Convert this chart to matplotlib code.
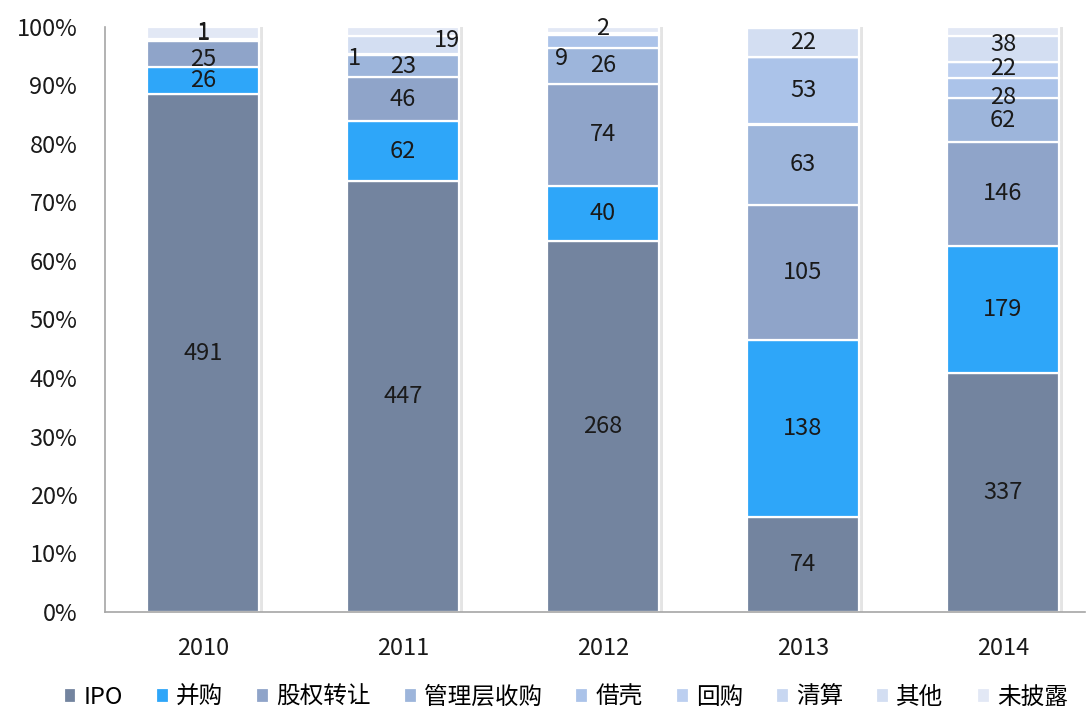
import matplotlib
matplotlib.use('Agg')
import matplotlib.pyplot as plt
import numpy as np

plt.rcParams['font.family'] = ['Noto Sans CJK SC', 'DejaVu Sans']

years = ['2010', '2011', '2012', '2013', '2014']
categories = ['IPO', '并购', '股权转让', '管理层收购', '借壳', '回购', '清算', '其他', '未披露']

ipo = [491, 447, 268, 74, 337]
merger = [26, 62, 40, 138, 179]
equity_transfer = [25, 46, 74, 105, 146]
mbo = [1, 23, 26, 63, 62]
backdoor = [1, 1, 9, 53, 28]
buyback = [0, 0, 2, 0, 22]
liquidation = [0, 0, 0, 0, 0]
other = [0, 19, 0, 22, 38]
undisclosed = [11, 9, 4, 1, 12]

colors = ['#73849f', '#2ea6f9', '#8fa4c9', '#9db5db', '#abc3e9',
          '#bccff0', '#c8d7f1', '#d3def2', '#e2e8f5']

# label nudges in points (year index, category index)
nudge = {(0, 3): (0, 5), (0, 4): (0, 5), (0, 2): (0, -4),
         (1, 4): (-35, -3), (1, 7): (32, 3),
         (2, 4): (-30, -12), (2, 5): (0, 4),
         (4, 7): (0, 3), (4, 5): (0, 1), (4, 4): (0, -7)}

series = [ipo, merger, equity_transfer, mbo, backdoor, buyback, liquidation, other, undisclosed]
data = np.array(series, dtype=float)
totals = data.sum(axis=0)
pct = data / totals * 100

fig = plt.figure(figsize=(10.91, 7.07), dpi=100)
ax = fig.add_axes([105 / 1091, 95 / 707, 980 / 1091, 585 / 707])

x = np.arange(len(years))
width = 0.56

# faint shadow behind each bar
ax.bar(x + 0.012, 100.4, width + 0.02, bottom=-0.4, color='#e4e4e4', zorder=1)

bottom = np.zeros(len(years))
for i, name in enumerate(categories):
    ax.bar(x, pct[i], width, bottom=bottom, color=colors[i], edgecolor='white',
           linewidth=1.6, label=name, zorder=2)
    if name != '未披露':
        for j in range(len(years)):
            if data[i, j] <= 0:
                continue
            dx, dy = nudge.get((j, i), (0, 0))
            ax.annotate('%d' % data[i, j], (x[j], bottom[j] + pct[i, j] / 2),
                        xytext=(dx, dy), textcoords='offset points',
                        ha='center', va='center', fontsize=17, color='#1a1a1a', zorder=3)
    bottom += pct[i]

ax.set_xlim(-0.49, 4.41)
ax.set_ylim(0, 100)
ax.set_yticks(np.arange(0, 101, 10))
ax.set_yticklabels(['%d%%' % v for v in range(0, 101, 10)], fontsize=17)
ax.set_xticks(x)
ax.set_xticklabels(years, fontsize=17)
ax.tick_params(axis='y', length=0, pad=20, colors='#1a1a1a')
ax.tick_params(axis='x', length=0, pad=18, colors='#1a1a1a')
for side in ['top', 'right']:
    ax.spines[side].set_visible(False)
for side in ['left', 'bottom']:
    ax.spines[side].set_color('#a6a6a6')
    ax.spines[side].set_linewidth(1.2)

ax.legend(loc='upper center', bbox_to_anchor=(0.47, -0.09), ncol=9, frameon=False,
          fontsize=17, handlelength=0.55, handleheight=0.55, handletextpad=0.3,
          columnspacing=1.4)

fig.savefig('out.png', dpi=100)
